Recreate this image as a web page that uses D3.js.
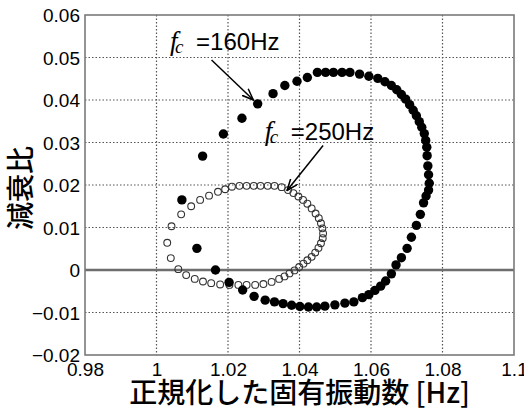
<!DOCTYPE html>
<html>
<head>
<meta charset="utf-8">
<script src="https://cdn.jsdelivr.net/npm/d3@7"></script>
<style>
  body { margin: 0; background: #fff; }
  svg { display: block; }
</style>
</head>
<body>
<svg id="chart" width="524" height="417"></svg>
<script>
// Axis ticks
const xTicks = [0.98, 1, 1.02, 1.04, 1.06, 1.08, 1.1];
const xTickLabels = ["0.98", "1", "1.02", "1.04", "1.06", "1.08", "1.1"];
const yTicks = [-0.02, -0.01, 0, 0.01, 0.02, 0.03, 0.04, 0.05, 0.06];
const yTickLabels = ["\u22120.02", "\u22120.01", "0", "0.01", "0.02", "0.03", "0.04", "0.05", "0.06"];

// fc = 160 Hz : normalized natural frequency / damping ratio
const fc160X = [1.0071,1.0129,1.0187,1.0239,1.0283,1.0326,1.0359,1.0393,1.0422,1.0450,1.0473,1.0495,1.0519,1.0541,1.0568,1.0594,1.0619,1.0639,1.0657,1.0672,1.0685,1.0697,1.0708,1.0718,1.0727,1.0735,1.0742,1.0749,1.0753,1.0756,1.0757,1.0759,1.0761,1.0763,1.0761,1.0754,1.0747,1.0738,1.0727,1.0713,1.0701,1.0685,1.0670,1.0657,1.0641,1.0627,1.0611,1.0594,1.0576,1.0552,1.0527,1.0499,1.0471,1.0448,1.0425,1.0401,1.0378,1.0354,1.0330,1.0304,1.0273,1.0241,1.0203,1.0165,1.0113];
const fc160Y = [0.0165,0.0268,0.0320,0.0357,0.0391,0.0415,0.0434,0.0444,0.0453,0.0465,0.0465,0.0465,0.0465,0.0465,0.0461,0.0456,0.0451,0.0443,0.0434,0.0424,0.0413,0.0402,0.0389,0.0376,0.0363,0.0349,0.0336,0.0321,0.0305,0.0289,0.0269,0.0245,0.0224,0.0204,0.0188,0.0174,0.0158,0.0131,0.0105,0.0077,0.0051,0.0029,0.0012,-0.0009,-0.0026,-0.0038,-0.0048,-0.0058,-0.0065,-0.0075,-0.0078,-0.0082,-0.0085,-0.0087,-0.0087,-0.0086,-0.0083,-0.0079,-0.0075,-0.0071,-0.0062,-0.0047,-0.0029,0.0000,0.0051];

// fc = 250 Hz
const fc250X = [1.0042,1.0069,1.0097,1.0122,1.0147,1.0172,1.0192,1.0211,1.0232,1.0252,1.0272,1.0291,1.0311,1.0330,1.0350,1.0368,1.0383,1.0397,1.0410,1.0422,1.0434,1.0445,1.0454,1.0460,1.0464,1.0466,1.0465,1.0460,1.0453,1.0444,1.0434,1.0422,1.0411,1.0399,1.0386,1.0372,1.0358,1.0343,1.0322,1.0299,1.0276,1.0252,1.0229,1.0204,1.0178,1.0153,1.0130,1.0107,1.0083,1.0061,1.0040,1.0030];
const fc250Y = [0.0103,0.0131,0.0150,0.0165,0.0175,0.0184,0.0190,0.0196,0.0198,0.0198,0.0198,0.0198,0.0198,0.0198,0.0195,0.0188,0.0181,0.0173,0.0165,0.0156,0.0145,0.0133,0.0122,0.0110,0.0098,0.0086,0.0075,0.0063,0.0052,0.0041,0.0031,0.0023,0.0015,0.0007,-0.0001,-0.0008,-0.0015,-0.0021,-0.0028,-0.0033,-0.0035,-0.0035,-0.0035,-0.0035,-0.0034,-0.0031,-0.0027,-0.0021,-0.0012,0.0002,0.0028,0.0064];

// Annotations: label text, label anchor and arrow (from -> to), in data units
const annotText = ["=160Hz", "=250Hz"];
const annotLabelAt = [[1.0038, 0.0518], [1.0303, 0.0306]];
const annotArrowFrom = [[1.0154, 0.0494], [1.0466, 0.0293]];
const annotArrowTo = [[1.0271, 0.0400], [1.0365, 0.0187]];

const xTitle = "正規化した固有振動数 [Hz]";
const yTitle = "減衰比";

const W = 524, H = 417;
const plot = { left: 85, top: 15, right: 514, bottom: 355 };

const svg = d3.select("#chart");
svg.append("rect").attr("width", W).attr("height", H).attr("fill", "#fff");

const x = d3.scaleLinear().domain([0.98, 1.1]).range([plot.left, plot.right]);
const y = d3.scaleLinear().domain([-0.02, 0.06]).range([plot.bottom, plot.top]);

const latin = "'Liberation Sans', Arial, sans-serif";
const cjk = "'Noto Sans CJK JP', sans-serif";

// dotted grid
const grid = svg.append("g");
grid.selectAll("line.vx")
  .data(xTicks.slice(1, -1))
  .join("line")
  .attr("x1", d => x(d)).attr("x2", d => x(d))
  .attr("y1", plot.top).attr("y2", plot.bottom)
  .attr("stroke", "#555").attr("stroke-width", 1.2)
  .attr("stroke-dasharray", "1.5,2");
grid.selectAll("line.hy")
  .data(yTicks.slice(1, -1).filter(d => d !== 0))
  .join("line")
  .attr("y1", d => y(d)).attr("y2", d => y(d))
  .attr("x1", plot.left).attr("x2", plot.right)
  .attr("stroke", "#555").attr("stroke-width", 1.2)
  .attr("stroke-dasharray", "1.5,2");

// zero line
svg.append("line")
  .attr("x1", plot.left).attr("x2", plot.right)
  .attr("y1", y(0)).attr("y2", y(0))
  .attr("stroke", "#6e6e6e").attr("stroke-width", 2.5);

// frame
svg.append("rect")
  .attr("x", plot.left).attr("y", plot.top)
  .attr("width", plot.right - plot.left).attr("height", plot.bottom - plot.top)
  .attr("fill", "none").attr("stroke", "#7a7a7a").attr("stroke-width", 1.6);

// axes (labels only)
const xAxis = d3.axisBottom(x).tickValues(xTicks)
  .tickFormat((d, i) => xTickLabels[i]).tickSize(0).tickPadding(0);
const gx = svg.append("g").attr("transform", `translate(0,${plot.bottom})`).call(xAxis);
gx.select(".domain").remove();
gx.selectAll("text")
  .attr("y", 21).attr("dy", 0)
  .attr("font-family", latin).attr("font-size", 19).attr("fill", "#000");

const yAxis = d3.axisLeft(y).tickValues(yTicks)
  .tickFormat((d, i) => yTickLabels[i]).tickSize(0).tickPadding(5);
const gy = svg.append("g").attr("transform", `translate(${plot.left},0)`).call(yAxis);
gy.select(".domain").remove();
gy.selectAll("text")
  .attr("dy", "0.36em")
  .attr("font-family", latin).attr("font-size", 19).attr("fill", "#000");

// fc = 250 Hz, open circles
const open = fc250X.map((v, i) => [v, fc250Y[i]]);
svg.append("g").selectAll("circle")
  .data(open).join("circle")
  .attr("cx", d => x(d[0])).attr("cy", d => y(d[1]))
  .attr("r", 3.4)
  .attr("fill", "none").attr("stroke", "#333").attr("stroke-width", 1.1);

// fc = 160 Hz, filled circles
const filled = fc160X.map((v, i) => [v, fc160Y[i]]);
svg.append("g").selectAll("circle")
  .data(filled).join("circle")
  .attr("cx", d => x(d[0])).attr("cy", d => y(d[1]))
  .attr("r", 4.7)
  .attr("fill", "#000");

// arrow head
svg.append("defs").append("marker")
  .attr("id", "head")
  .attr("viewBox", "0 0 12 10")
  .attr("refX", 11.5).attr("refY", 5)
  .attr("markerWidth", 12).attr("markerHeight", 10)
  .attr("markerUnits", "userSpaceOnUse")
  .attr("orient", "auto")
  .append("path")
  .attr("d", "M0,0.5 L11.5,5 L0,9.5")
  .attr("fill", "none").attr("stroke", "#000").attr("stroke-width", 1.5);

const ann = svg.append("g");
annotText.forEach((t, i) => {
  ann.append("line")
    .attr("x1", x(annotArrowFrom[i][0])).attr("y1", y(annotArrowFrom[i][1]))
    .attr("x2", x(annotArrowTo[i][0])).attr("y2", y(annotArrowTo[i][1]))
    .attr("stroke", "#000").attr("stroke-width", 1.5)
    .attr("marker-end", "url(#head)");
  const lx = x(annotLabelAt[i][0]), ly = y(annotLabelAt[i][1]);
  ann.append("text")
    .attr("x", lx).attr("y", ly)
    .attr("font-family", "'Liberation Serif', 'Times New Roman', serif")
    .attr("font-style", "italic").attr("font-size", 27).attr("fill", "#000")
    .text("f");
  ann.append("text")
    .attr("x", lx + 5).attr("y", ly + 3)
    .attr("font-family", "'Liberation Serif', 'Times New Roman', serif")
    .attr("font-style", "italic").attr("font-size", 19).attr("fill", "#000")
    .text("c");
  ann.append("text")
    .attr("x", lx + 26).attr("y", ly)
    .attr("font-family", latin).attr("font-size", 24).attr("fill", "#000")
    .text(t);
});

// axis titles
svg.append("text")
  .attr("x", (plot.left + plot.right) / 2).attr("y", 403)
  .attr("text-anchor", "middle")
  .attr("font-family", cjk).attr("font-weight", 500).attr("font-size", 28).attr("fill", "#000")
  .text(xTitle);

svg.append("text")
  .attr("transform", `translate(31,${(plot.top + plot.bottom) / 2 + 3}) rotate(-90)`)
  .attr("text-anchor", "middle")
  .attr("font-family", cjk).attr("font-weight", 500).attr("font-size", 28).attr("fill", "#000")
  .text(yTitle);
</script>
</body>
</html>
